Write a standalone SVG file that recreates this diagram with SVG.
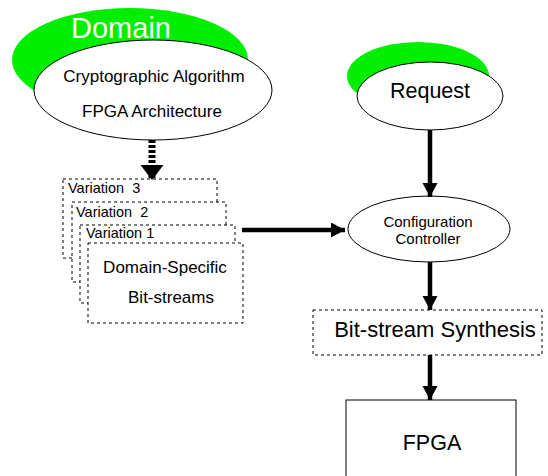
<svg xmlns="http://www.w3.org/2000/svg" width="548" height="476" viewBox="0 0 548 476">
<style>
text{font-family:"Liberation Sans",Arial,sans-serif;fill:#000}
.el{fill:#fff;stroke:#000;stroke-width:1}
.green{fill:#00ee00;stroke:none}
.dbox{fill:#fff;stroke:#000;stroke-width:1;stroke-dasharray:3 3}
.arrow{stroke:#000;stroke-width:4.5;fill:none}
</style>
<defs>
<marker id="ah" markerUnits="userSpaceOnUse" markerWidth="16" markerHeight="16" refX="14" refY="7.5" orient="auto">
<path d="M0,0 L14,7.5 L0,15 Z" fill="#000"/>
</marker>
<marker id="ah2" markerUnits="userSpaceOnUse" markerWidth="24" markerHeight="24" refX="15" refY="11.5" orient="auto">
<path d="M0,0 L15,11.5 L0,23 Z" fill="#000"/>
</marker>
</defs>
<g id="domain">
<ellipse class="green" cx="130" cy="60" rx="118" ry="52"/>
<text x="121" y="38" font-size="29" text-anchor="middle" style="fill:#fff">Domain</text>
<ellipse class="el" cx="153" cy="90" rx="119" ry="50"/>
<text x="154" y="82" font-size="17" text-anchor="middle">Cryptographic Algorithm</text>
<text x="152" y="117" font-size="17" text-anchor="middle">FPGA Architecture</text>
</g>
<g id="request">
<ellipse class="green" cx="418" cy="76" rx="71" ry="34"/>
<ellipse class="el" cx="430" cy="96" rx="73" ry="34"/>
<text x="430" y="98" font-size="21.5" text-anchor="middle">Request</text>
</g>
<g id="variations">
<rect class="dbox" x="63" y="179" width="154" height="79"/>
<text x="68" y="193" font-size="14.5" xml:space="preserve">Variation  3</text>
<rect class="dbox" x="72" y="202" width="154" height="80"/>
<text x="76" y="217" font-size="14.5" xml:space="preserve">Variation  2</text>
<rect class="dbox" x="80" y="225" width="155" height="78"/>
<text x="86" y="238" font-size="14.5">Variation 1</text>
<rect class="dbox" x="88" y="243" width="155" height="80"/>
<text x="165" y="273" font-size="17" text-anchor="middle">Domain-Specific</text>
<text x="171" y="303" font-size="17" text-anchor="middle">Bit-streams</text>
</g>
<g id="controller">
<ellipse class="el" cx="429" cy="229" rx="81" ry="33"/>
<text x="428" y="227" font-size="15" text-anchor="middle">Configuration</text>
<text x="428" y="244" font-size="15" text-anchor="middle">Controller</text>
</g>
<g id="synthesis">
<rect class="dbox" x="313" y="310" width="229" height="45"/>
<text x="435" y="337" font-size="22" text-anchor="middle">Bit-stream Synthesis</text>
</g>
<g id="fpga">
<rect x="346" y="400" width="170" height="90" fill="#fff" stroke="#000" stroke-width="1"/>
<text x="432" y="450" font-size="21.5" text-anchor="middle">FPGA</text>
</g>
<g id="connectors">
<line x1="152" y1="140" x2="152" y2="180" stroke="#000" stroke-width="7" stroke-dasharray="3 2" marker-end="url(#ah2)"/>
<line class="arrow" x1="430" y1="130" x2="430" y2="197" marker-end="url(#ah)"/>
<line class="arrow" x1="242" y1="230" x2="345" y2="230" marker-end="url(#ah)"/>
<line class="arrow" x1="430" y1="262" x2="430" y2="310" marker-end="url(#ah)"/>
<line class="arrow" x1="430" y1="355" x2="430" y2="400" marker-end="url(#ah)"/>
</g>
</svg>
